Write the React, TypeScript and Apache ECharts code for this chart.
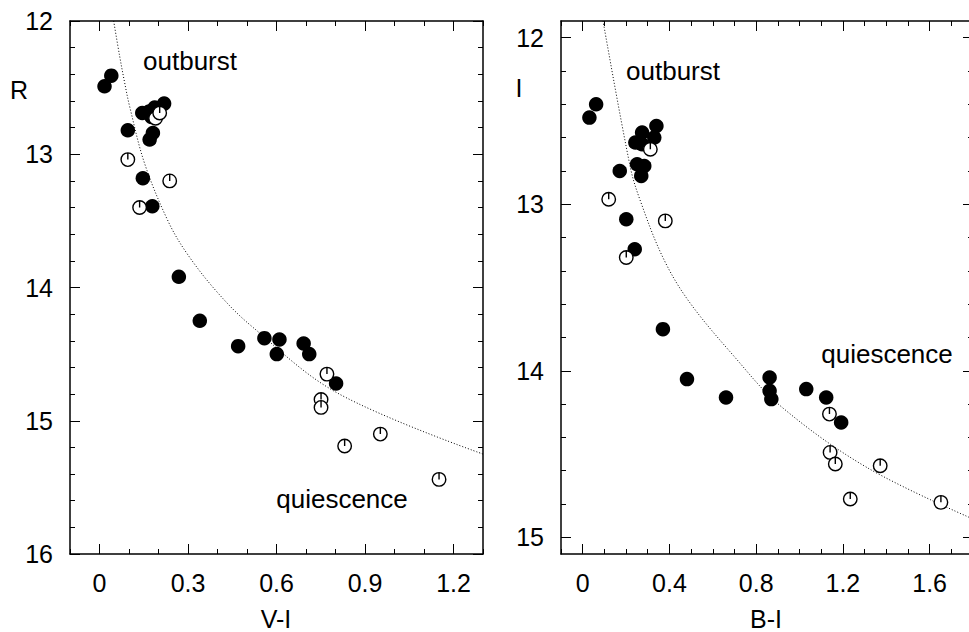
import React, { useEffect, useRef } from "react";
import * as echarts from "echarts";

// ---------- data (left panel: V-I vs R) ----------
const leftFilled: number[][] = [
  [0.017, 12.49], [0.040, 12.41], [0.145, 12.69], [0.168, 12.68], [0.187, 12.65],
  [0.219, 12.62], [0.176, 12.72], [0.096, 12.82], [0.181, 12.84], [0.170, 12.89],
  [0.147, 13.18], [0.179, 13.39], [0.269, 13.92], [0.340, 14.25], [0.470, 14.44],
  [0.559, 14.38], [0.610, 14.39], [0.601, 14.50], [0.692, 14.42], [0.711, 14.50],
  [0.802, 14.72],
];
const leftOpen: number[][] = [
  [0.190, 12.73], [0.204, 12.69], [0.096, 13.04], [0.238, 13.20], [0.136, 13.40],
  [0.771, 14.65], [0.751, 14.84], [0.751, 14.90], [0.952, 15.10], [0.831, 15.19],
  [1.151, 15.44],
];
const leftCurve: number[][] = [
  [0.048, 12.0], [0.068, 12.26], [0.085, 12.46], [0.102, 12.64], [0.153, 13.07],
  [0.232, 13.50], [0.295, 13.74], [0.397, 14.03], [0.51, 14.28], [0.805, 14.79],
  [1.3, 15.25],
];

// ---------- data (right panel: B-I vs I) ----------
const rightFilled: number[][] = [
  [0.062, 12.40], [0.031, 12.48], [0.340, 12.53], [0.274, 12.57], [0.243, 12.63],
  [0.274, 12.64], [0.330, 12.60], [0.251, 12.76], [0.284, 12.77], [0.270, 12.83],
  [0.171, 12.80], [0.201, 13.09], [0.240, 13.27], [0.370, 13.75], [0.481, 14.05],
  [0.661, 14.16], [0.862, 14.04], [0.862, 14.12], [0.870, 14.17], [1.031, 14.11],
  [1.123, 14.16], [1.192, 14.31],
];
const rightOpen: number[][] = [
  [0.312, 12.67], [0.120, 12.97], [0.381, 13.10], [0.201, 13.32], [1.138, 14.26],
  [1.141, 14.49], [1.165, 14.56], [1.372, 14.57], [1.234, 14.77], [1.652, 14.79],
];
const rightCurve: number[][] = [
  [0.094, 11.9], [0.22, 12.78], [0.266, 12.98], [0.37, 13.32], [0.488, 13.58],
  [0.696, 13.91], [0.911, 14.21], [1.31, 14.58], [1.8, 14.89],
];

// ---------- ticks ----------
const leftXMajor = [0, 0.3, 0.6, 0.9, 1.2];
const leftXMinor = [-0.1, 0, 0.1, 0.2, 0.3, 0.4, 0.5, 0.6, 0.7, 0.8, 0.9, 1.0, 1.1, 1.2, 1.3];
const leftYMajor = [12, 13, 14, 15, 16];
const leftYMinor = [12, 12.2, 12.4, 12.6, 12.8, 13, 13.2, 13.4, 13.6, 13.8, 14, 14.2, 14.4, 14.6, 14.8, 15, 15.2, 15.4, 15.6, 15.8, 16];
const rightXMajor = [0, 0.4, 0.8, 1.2, 1.6];
const rightXMinor = [-0.1, 0, 0.1, 0.2, 0.3, 0.4, 0.5, 0.6, 0.7, 0.8, 0.9, 1.0, 1.1, 1.2, 1.3, 1.4, 1.5, 1.6, 1.7, 1.8];
const rightYMajor = [12, 13, 14, 15];
const rightYMinor = [12, 12.2, 12.4, 12.6, 12.8, 13, 13.2, 13.4, 13.6, 13.8, 14, 14.2, 14.4, 14.6, 14.8, 15];

const FONT = "'Liberation Sans', Arial, Helvetica, sans-serif";
const OPEN_SYMBOL = "path://M0,10 A10,10 0 1,1 20,10 A10,10 0 1,1 0,10 Z M10,0 L10,10";

const fmt = (v: number) => String(Math.round(v * 10) / 10);

function makeX(gridIndex: number, min: number, max: number, vals: number[], major: boolean) {
  const len = major ? 10 : 5;
  const base: any = {
    type: "value", gridIndex, min, max,
    splitLine: { show: false },
    axisLine: { show: major, onZero: false, lineStyle: { color: "#000", width: 1.5 } },
  };
  return [
    {
      ...base, position: "bottom",
      axisTick: { show: true, inside: true, length: len, customValues: vals, lineStyle: { color: "#000", width: 1 } },
      axisLabel: major
        ? { show: true, customValues: vals, formatter: fmt, color: "#000", fontSize: 25, fontFamily: FONT, margin: 16 }
        : { show: false },
    },
    {
      ...base, position: "top",
      axisTick: { show: true, inside: true, length: len, customValues: vals, lineStyle: { color: "#000", width: 1 } },
      axisLabel: { show: false },
    },
  ];
}

function makeY(gridIndex: number, min: number, max: number, vals: number[], major: boolean) {
  const len = major ? 10 : 5;
  const base: any = {
    type: "value", gridIndex, min, max, inverse: true,
    splitLine: { show: false },
    axisLine: { show: major, onZero: false, lineStyle: { color: "#000", width: 1.5 } },
  };
  return [
    {
      ...base, position: "left",
      axisTick: { show: true, inside: true, length: len, customValues: vals, lineStyle: { color: "#000", width: 1 } },
      axisLabel: major
        ? { show: true, customValues: vals, formatter: fmt, color: "#000", fontSize: 25, fontFamily: FONT, margin: 17 }
        : { show: false },
    },
    {
      ...base, position: "right",
      axisTick: { show: true, inside: true, length: len, customValues: vals, lineStyle: { color: "#000", width: 1 } },
      axisLabel: { show: false },
    },
  ];
}

function pointSeries(data: number[][], xi: number, yi: number, open: boolean) {
  return {
    type: "scatter",
    xAxisIndex: xi, yAxisIndex: yi,
    data,
    symbol: open ? OPEN_SYMBOL : "circle",
    symbolSize: open ? 13.5 : 14.5,
    itemStyle: open
      ? { color: "#fff", borderColor: "#000", borderWidth: 1.4, opacity: 1 }
      : { color: "#000", opacity: 1 },
    emphasis: { disabled: true },
    z: open ? 4 : 3,
  };
}

function curveSeries(data: number[][], xi: number, yi: number) {
  return {
    type: "line",
    xAxisIndex: xi, yAxisIndex: yi,
    data,
    showSymbol: false,
    smooth: 0.35,
    lineStyle: { color: "#000", width: 1, type: [1, 2] },
    emphasis: { disabled: true },
    z: 2,
  };
}

export default function App() {
  const ref = useRef<HTMLDivElement>(null);
  useEffect(() => {
    if (!ref.current) return;
    const chart = echarts.init(ref.current, null, { renderer: "svg" });
    const gl = { left: 70, top: 21, width: 413, height: 533, outerBoundsMode: "none", show: false };
    const gr = { left: 561, top: 21, width: 412, height: 533, outerBoundsMode: "none", show: false };
    const txt = (x: number, y: number, text: string, size: number) => ({
      type: "text", x, y,
      style: { text, fill: "#000", font: `${size}px ${FONT}`, textAlign: "center", textVerticalAlign: "middle" },
    });
    chart.setOption({
      animation: false,
      backgroundColor: "#fff",
      grid: [gl, { ...gl }, gr, { ...gr }],
      xAxis: [
        ...makeX(0, -0.1, 1.3, leftXMajor, true),
        ...makeX(1, -0.1, 1.3, leftXMinor, false),
        ...makeX(2, -0.1, 1.8, rightXMajor, true),
        ...makeX(3, -0.1, 1.8, rightXMinor, false),
      ],
      yAxis: [
        ...makeY(0, 12, 16, leftYMajor, true),
        ...makeY(1, 12, 16, leftYMinor, false),
        ...makeY(2, 11.9, 15.1, rightYMajor, true),
        ...makeY(3, 11.9, 15.1, rightYMinor, false),
      ],
      series: [
        curveSeries(leftCurve, 0, 0),
        pointSeries(leftFilled, 0, 0, false),
        pointSeries(leftOpen, 0, 0, true),
        curveSeries(rightCurve, 4, 4),
        pointSeries(rightFilled, 4, 4, false),
        pointSeries(rightOpen, 4, 4, true),
      ],
      graphic: [
        txt(190, 61, "outburst", 26),
        txt(342, 499, "quiescence", 26),
        txt(673, 71, "outburst", 26),
        txt(887, 354, "quiescence", 26),
        txt(276, 619, "V-I", 25),
        txt(766, 619, "B-I", 25),
        txt(19, 90, "R", 25),
        txt(519, 88, "I", 25),
      ],
    });
    return () => chart.dispose();
  }, []);
  return (
    <div
      ref={ref}
      style={{ position: "absolute", left: 0, top: 0, width: 969, height: 632 }}
    />
  );
}
